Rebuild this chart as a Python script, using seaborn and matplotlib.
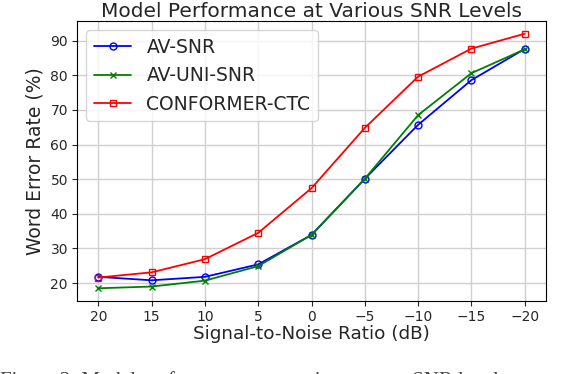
import matplotlib
matplotlib.use("Agg")
import matplotlib.pyplot as plt
import seaborn as sns
import pandas as pd

snr = [20, 15, 10, 5, 0, -5, -10, -15, -20]
av_snr = [21.8, 20.8, 21.8, 25.4, 33.9, 50.1, 65.7, 78.6, 87.6]
av_uni_snr = [18.5, 19.0, 20.7, 24.9, 33.9, 50.1, 68.5, 80.6, 87.5]
conformer_ctc = [21.6, 23.1, 26.9, 34.5, 47.4, 64.8, 79.6, 87.7, 92.0]
series_names = ["AV-SNR", "AV-UNI-SNR", "CONFORMER-CTC"]
caption = "Figure 2: Model performance comparison across SNR levels."

sns.set_style("ticks")
plt.rcParams['font.family'] = ['DejaVu Sans']

fig = plt.figure(figsize=(5.82, 3.74), dpi=100)
ax = fig.add_axes([77/582, 1-301/374, (546-77)/582, (301-21)/374])

styles = [("blue", "o"), ("green", "x"), ("red", "s")]
for name, vals, (c, m) in zip(series_names, [av_snr, av_uni_snr, conformer_ctc], styles):
    df = pd.DataFrame({"snr": snr, "wer": vals})
    kw = dict(markerfacecolor="none") if m != "x" else {}
    sns.lineplot(data=df, x="snr", y="wer", ax=ax, color=c, marker=m,
                 markersize=5, markeredgewidth=1.0, markeredgecolor=c,
                 linewidth=1.3, label=name, **kw)

ax.invert_xaxis()
ax.set_xticks(snr)
ax.set_yticks([20, 30, 40, 50, 60, 70, 80, 90])
ax.grid(True, color="#d0d0d0", linewidth=1.0)
ax.set_axisbelow(True)
for s in ax.spines.values():
    s.set_visible(True)
    s.set_color("black")
ax.tick_params(labelsize=10, length=3.5, pad=3)
ax.set_xlabel("Signal-to-Noise Ratio (dB)", fontsize=13.2, labelpad=1)
ax.set_ylabel("Word Error Rate (%)", fontsize=13.5)
ax.set_title("Model Performance at Various SNR Levels", fontsize=14.5, pad=3)
ax.legend(loc="upper left", fontsize=13.5, frameon=True)

fig.text(0.0, 3/374, caption,
         fontsize=15, family="Liberation Serif", color="#444444", va="top", ha="left")

fig.savefig("out.png", dpi=100)
